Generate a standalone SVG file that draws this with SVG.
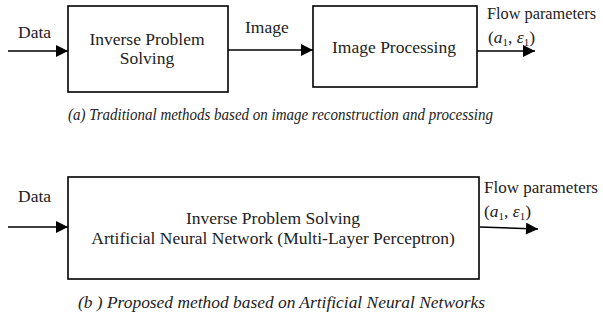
<svg xmlns="http://www.w3.org/2000/svg" width="603" height="320" viewBox="0 0 603 320">
<defs>
<marker id="ah" viewBox="0 0 10 10" refX="10" refY="5" markerWidth="15" markerHeight="12" markerUnits="userSpaceOnUse" orient="auto">
<path d="M0,0 L10,5 L0,10 z" fill="#000"/>
</marker>
<style>
.box{fill:#fff;stroke:#000;stroke-width:1.6}
.ln{fill:none;stroke:#000;stroke-width:1.6}
text{font-family:"Liberation Serif","Times New Roman",serif;fill:#222;font-size:17.5px}
.c{text-anchor:middle}
.cap{font-style:italic;font-size:16px}
.m{font-style:italic}
.s{font-size:11px;font-style:normal}
</style>
</defs>
<rect width="603" height="320" fill="#fff"/>
<g id="connectors">
<line class="ln" x1="8" y1="51" x2="68" y2="51" marker-end="url(#ah)"/>
<line class="ln" x1="228" y1="50" x2="313" y2="50" marker-end="url(#ah)"/>
<line class="ln" x1="477" y1="51" x2="535" y2="51" marker-end="url(#ah)"/>
<line class="ln" x1="8" y1="227" x2="68" y2="227" marker-end="url(#ah)"/>
<line class="ln" x1="480" y1="227" x2="538" y2="229" marker-end="url(#ah)"/>
</g>
<g id="n_data_a"><text x="18" y="38">Data</text></g>
<g id="n_inverse_a">
<rect class="box" x="68" y="6" width="160" height="86"/>
<text class="c" x="147" y="45">Inverse Problem</text>
<text class="c" x="147" y="64">Solving</text>
</g>
<g id="n_image_label"><text x="245" y="33">Image</text></g>
<g id="n_imgproc">
<rect class="box" x="313" y="6" width="164" height="81"/>
<text class="c" x="394" y="53">Image Processing</text>
</g>
<g id="n_flow_a">
<text x="487" y="19" textLength="109" lengthAdjust="spacingAndGlyphs">Flow parameters</text>
<text x="488" y="43">(<tspan class="m">a</tspan><tspan class="s" dy="3">1</tspan><tspan dy="-3">, </tspan><tspan class="m">ε</tspan><tspan class="s" dy="3">1</tspan><tspan dy="-3">)</tspan></text>
</g>
<g id="cap_a"><text class="cap" x="68" y="120" textLength="425" lengthAdjust="spacingAndGlyphs">(a) Traditional methods based on image reconstruction and processing</text></g>
<g id="n_data_b"><text x="18" y="202">Data</text></g>
<g id="n_ann">
<rect class="box" x="68" y="177" width="411" height="102"/>
<text class="c" x="273" y="224">Inverse Problem Solving</text>
<text class="c" x="273" y="244">Artificial Neural Network (Multi-Layer Perceptron)</text>
</g>
<g id="n_flow_b">
<text x="484" y="193" textLength="114" lengthAdjust="spacingAndGlyphs">Flow parameters</text>
<text x="484" y="217">(<tspan class="m">a</tspan><tspan class="s" dy="3">1</tspan><tspan dy="-3">, </tspan><tspan class="m">ε</tspan><tspan class="s" dy="3">1</tspan><tspan dy="-3">)</tspan></text>
</g>
<g id="cap_b"><text class="cap" x="78" y="308" textLength="407" lengthAdjust="spacingAndGlyphs">(b ) Proposed method based on Artificial Neural Networks</text></g>
</svg>
